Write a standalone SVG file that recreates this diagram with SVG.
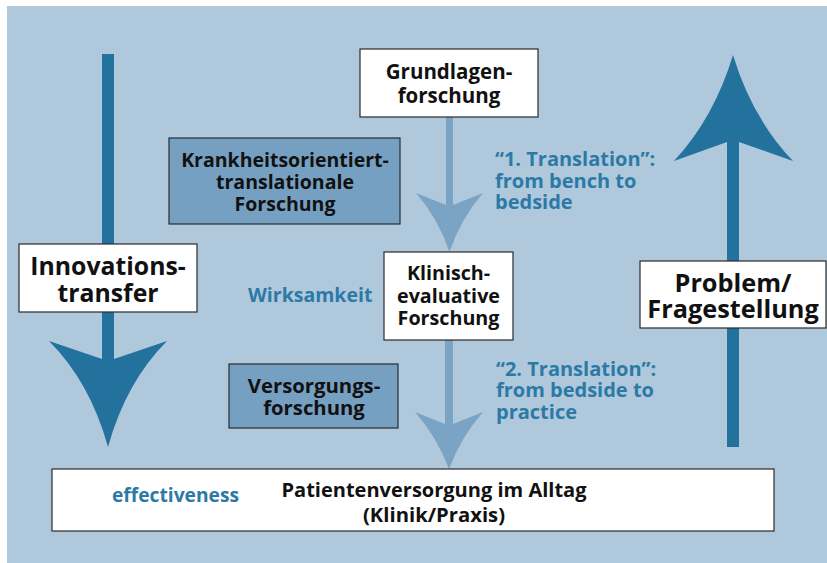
<svg xmlns="http://www.w3.org/2000/svg" width="827" height="563" viewBox="0 0 827 563">
  <style>
    .box { stroke: #2a2a2a; stroke-width: 1.2; }
    .white { fill: #ffffff; }
    .dark { fill: #76a0c2; }
    .t { font-family: "Open Sans", "Noto Sans", "DejaVu Sans", sans-serif; font-weight: 700; fill: #111111; text-anchor: middle; }
    .b { font-family: "Open Sans", "Noto Sans", "DejaVu Sans", sans-serif; font-weight: 700; fill: #2b7aa6; }
    .bigArrow { fill: #23729e; }
    .lightArrow { fill: #7aa3c4; }
  </style>
  <rect x="7" y="6" width="820" height="557" fill="#b0c8dc"/>

  <g id="connectors">
    <path class="bigArrow" d="M102,54 L102,359 L49,341 Q90,382 108,447 Q126,382 167,341 L114,359 L114,54 Z"/>
    <path class="bigArrow" d="M727,447 L727,142 L674,161 Q714,118 733,55 Q752,118 793,161 L739,142 L739,447 Z"/>
    <path class="lightArrow" d="M446,117 L446,205 L416,193 Q438,218 449.5,252 Q461,218 483,193 L453,205 L453,117 Z"/>
    <path class="lightArrow" d="M445,340 L445,424 L415,412 Q437,437 449,469 Q461,437 483,412 L453,424 L453,340 Z"/>
  </g>

  <g id="grundlagen">
    <rect class="box white" x="360" y="49" width="178" height="68"/>
    <text class="t" font-size="20.5" x="449" y="79">Grundlagen-</text>
    <text class="t" font-size="20.5" x="449" y="103">forschung</text>
  </g>

  <g id="krankheits">
    <rect class="box dark" x="169" y="138" width="231" height="86"/>
    <text class="t" font-size="19.5" x="285" y="167">Krankheitsorientiert-</text>
    <text class="t" font-size="19.5" x="285" y="189">translationale</text>
    <text class="t" font-size="19.5" x="285" y="211">Forschung</text>
  </g>

  <g id="translation1">
    <text class="b" font-size="20" x="495" y="166">“1. Translation”:</text>
    <text class="b" font-size="20" x="495" y="188">from bench to</text>
    <text class="b" font-size="20" x="495" y="209">bedside</text>
  </g>

  <g id="innovations">
    <rect class="box white" x="19" y="244" width="178" height="68"/>
    <text class="t" font-size="24.8" x="108" y="275">Innovations-</text>
    <text class="t" font-size="24.8" x="108" y="302">transfer</text>
  </g>

  <g id="wirksamkeit">
    <text class="b" font-size="19.5" x="248" y="302">Wirksamkeit</text>
  </g>

  <g id="klinisch">
    <rect class="box white" x="384" y="252" width="129" height="88"/>
    <text class="t" font-size="19.7" x="448.5" y="280">Klinisch-</text>
    <text class="t" font-size="19.7" x="448.5" y="303">evaluative</text>
    <text class="t" font-size="19.7" x="448.5" y="325">Forschung</text>
  </g>

  <g id="problem">
    <rect class="box white" x="640" y="261" width="186" height="67"/>
    <text class="t" font-size="25.3" x="733" y="292">Problem/</text>
    <text class="t" font-size="25.3" x="733" y="318">Fragestellung</text>
  </g>

  <g id="versorgungs">
    <rect class="box dark" x="229" y="364" width="169" height="64"/>
    <text class="t" font-size="20.3" x="314" y="393">Versorgungs-</text>
    <text class="t" font-size="20.3" x="314" y="415">forschung</text>
  </g>

  <g id="translation2">
    <text class="b" font-size="20" x="496" y="376">“2. Translation”:</text>
    <text class="b" font-size="20" x="496" y="397">from bedside to</text>
    <text class="b" font-size="20" x="496" y="419">practice</text>
  </g>

  <g id="patientenversorgung">
    <rect class="box white" x="52" y="469" width="722" height="62"/>
    <text class="b" font-size="20" x="112" y="502" textLength="127" lengthAdjust="spacingAndGlyphs">effectiveness</text>
    <text class="t" font-size="20" x="434" y="497" textLength="305" lengthAdjust="spacingAndGlyphs">Patientenversorgung im Alltag</text>
    <text class="t" font-size="20" x="434" y="522" textLength="142" lengthAdjust="spacingAndGlyphs">(Klinik/Praxis)</text>
  </g>
</svg>
